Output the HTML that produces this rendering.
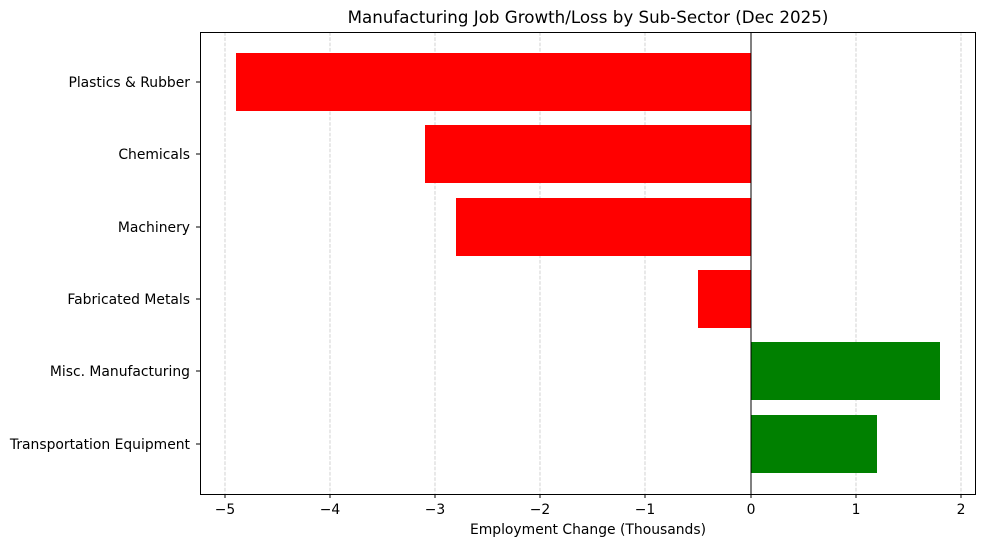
<!DOCTYPE html>
<html><head><meta charset="utf-8"><style>body{margin:0;background:#fff}svg{display:block}text{font-family:"DejaVu Sans",sans-serif;font-size:13.9px;fill:#000}</style></head><body>
<svg width="985" height="547" xmlns="http://www.w3.org/2000/svg">
<rect width="985" height="547" fill="#fff"/>
<g stroke="#c8c8c8" stroke-dasharray="3.7,1.6" stroke-width="0.8">
<line x1="225" y1="32" x2="225" y2="494"/><line x1="330" y1="32" x2="330" y2="494"/><line x1="435" y1="32" x2="435" y2="494"/><line x1="540" y1="32" x2="540" y2="494"/><line x1="645" y1="32" x2="645" y2="494"/><line x1="751" y1="32" x2="751" y2="494"/><line x1="856" y1="32" x2="856" y2="494"/><line x1="961" y1="32" x2="961" y2="494"/>
</g>
<rect x="236" y="53" width="515" height="58" fill="#ff0000"/>
<rect x="425" y="125" width="326" height="58" fill="#ff0000"/>
<rect x="456" y="198" width="295" height="58" fill="#ff0000"/>
<rect x="698" y="270" width="53" height="58" fill="#ff0000"/>
<rect x="751" y="342" width="189" height="58" fill="#008000"/>
<rect x="751" y="415" width="126" height="58" fill="#008000"/>
<line x1="751" y1="32" x2="751" y2="494" stroke="#000" stroke-width="1"/>
<rect x="200.5" y="32.5" width="775" height="462" fill="none" stroke="#000" stroke-width="1"/>
<g stroke="#000"><line x1="225" y1="494" x2="225" y2="498"/><line x1="330" y1="494" x2="330" y2="498"/><line x1="435" y1="494" x2="435" y2="498"/><line x1="540" y1="494" x2="540" y2="498"/><line x1="645" y1="494" x2="645" y2="498"/><line x1="751" y1="494" x2="751" y2="498"/><line x1="856" y1="494" x2="856" y2="498"/><line x1="961" y1="494" x2="961" y2="498"/>
<line x1="196" y1="82" x2="200" y2="82"/><line x1="196" y1="154" x2="200" y2="154"/><line x1="196" y1="227" x2="200" y2="227"/><line x1="196" y1="299" x2="200" y2="299"/><line x1="196" y1="371" x2="200" y2="371"/><line x1="196" y1="444" x2="200" y2="444"/></g>
<g text-anchor="middle"><text x="225" y="514">−5</text><text x="330" y="514">−4</text><text x="435" y="514">−3</text><text x="540" y="514">−2</text><text x="645" y="514">−1</text><text x="751" y="514">0</text><text x="856" y="514">1</text><text x="961" y="514">2</text>
<text x="588" y="534">Employment Change (Thousands)</text>
<text x="588" y="23" style="font-size:16.7px">Manufacturing Job Growth/Loss by Sub-Sector (Dec 2025)</text></g>
<g text-anchor="end"><text x="190" y="87">Plastics &amp; Rubber</text><text x="190" y="159">Chemicals</text><text x="190" y="232">Machinery</text><text x="190" y="304">Fabricated Metals</text><text x="190" y="376">Misc. Manufacturing</text><text x="190" y="449">Transportation Equipment</text></g>
</svg></body></html>
